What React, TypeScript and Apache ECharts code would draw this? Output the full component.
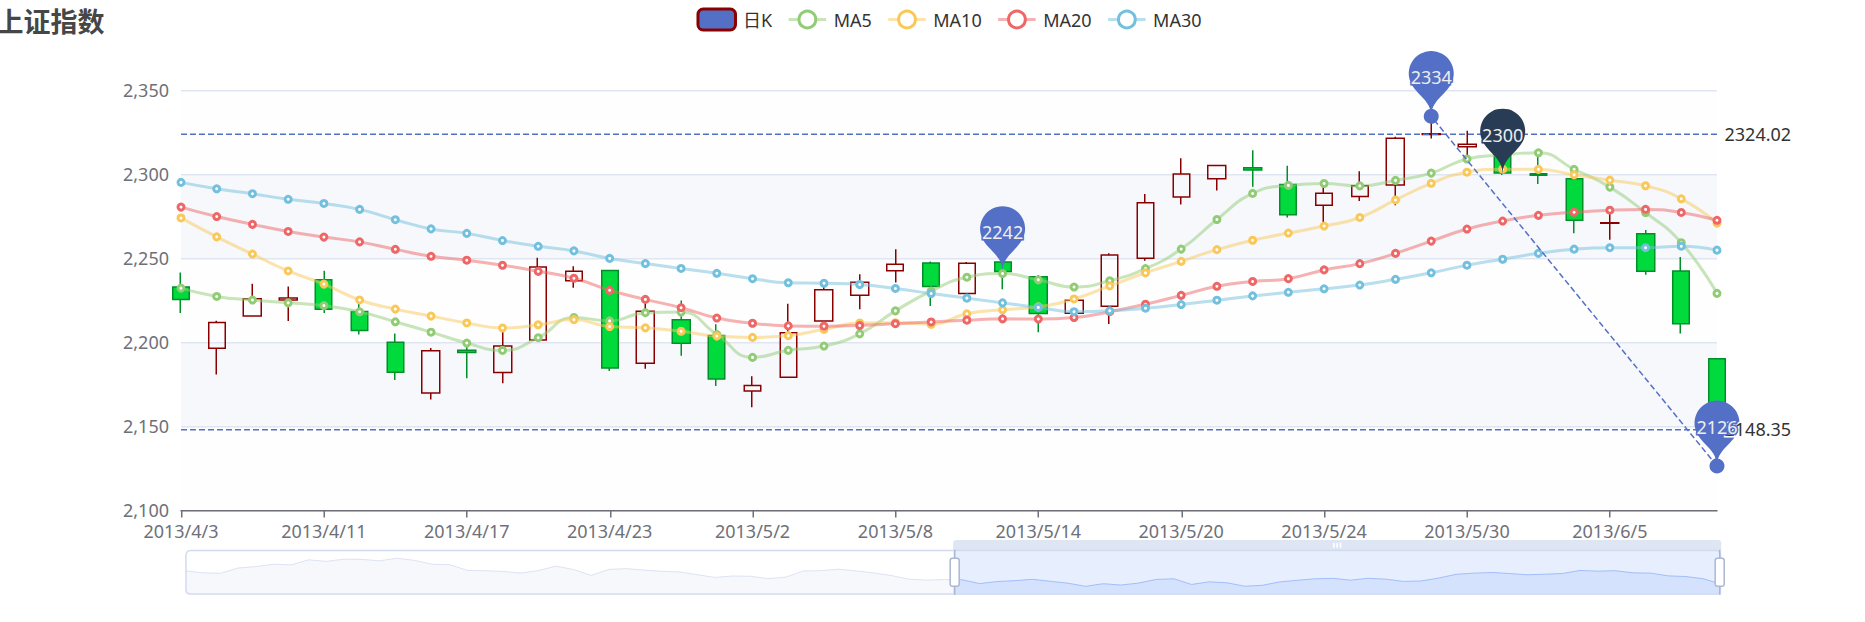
import { useEffect, useRef } from 'react';
import * as echarts from 'echarts';
import 'echarts/theme/v5.js';

const dates = [
  '2013/1/24', '2013/1/25', '2013/1/28', '2013/1/29', '2013/1/30', '2013/1/31',
  '2013/2/1', '2013/2/4', '2013/2/5', '2013/2/6', '2013/2/7', '2013/2/8', '2013/2/18',
  '2013/2/19', '2013/2/20', '2013/2/21', '2013/2/22', '2013/2/25', '2013/2/26', '2013/2/27', '2013/2/28',
  '2013/3/1', '2013/3/4', '2013/3/5', '2013/3/6', '2013/3/7', '2013/3/8', '2013/3/11', '2013/3/12',
  '2013/3/13', '2013/3/14', '2013/3/15', '2013/3/18', '2013/3/19', '2013/3/20', '2013/3/21', '2013/3/22',
  '2013/3/25', '2013/3/26', '2013/3/27', '2013/3/28', '2013/3/29',
  '2013/4/1', '2013/4/2', '2013/4/3', '2013/4/8', '2013/4/9', '2013/4/10', '2013/4/11', '2013/4/12',
  '2013/4/15', '2013/4/16', '2013/4/17', '2013/4/18', '2013/4/19', '2013/4/22', '2013/4/23', '2013/4/24',
  '2013/4/25', '2013/4/26',
  '2013/5/2', '2013/5/3', '2013/5/6', '2013/5/7', '2013/5/8', '2013/5/9', '2013/5/10', '2013/5/13',
  '2013/5/14', '2013/5/15', '2013/5/16', '2013/5/17', '2013/5/20', '2013/5/21', '2013/5/22', '2013/5/23',
  '2013/5/24', '2013/5/27', '2013/5/28', '2013/5/29', '2013/5/30', '2013/5/31',
  '2013/6/3', '2013/6/4', '2013/6/5', '2013/6/6', '2013/6/7', '2013/6/13'
];

const opens = [
  2320.26, 2300, 2295.35, 2347.22, 2360.75, 2383.43,
  2377.41, 2425.92, 2411, 2432.68, 2430.69, 2416.62, 2441.91,
  2420.26, 2383.49, 2378.82, 2322.94, 2320.62, 2313.74, 2297.77, 2322.32,
  2364.54, 2332.08, 2274.81, 2333.61, 2340.44, 2326.42, 2314.68, 2309.16,
  2282.17, 2255.77, 2269.31, 2267.29, 2244.26, 2257.74, 2318.21, 2321.4,
  2334.74, 2318.58, 2299.38, 2273.55, 2238.49,
  2229.46, 2234.9, 2232.69, 2196.24, 2215.47, 2224.93, 2236.98, 2218.09,
  2199.91, 2169.63, 2195.03, 2181.82, 2201.12, 2236.4, 2242.62, 2187.35,
  2213.19, 2203.89,
  2170.78, 2179.05, 2212.5, 2227.86, 2242.39, 2246.96, 2228.82, 2247.68,
  2238.9, 2217.09, 2221.34, 2249.81, 2286.33, 2297.11, 2303.75, 2293.81,
  2281.45, 2286.66, 2293.4, 2323.54, 2316.25, 2320.74,
  2300.21, 2297.1, 2270.71, 2264.43, 2242.26, 2190.1
];

const closes = [
  2320.26, 2291.3, 2346.5, 2358.98, 2382.48, 2385.42,
  2419.02, 2428.15, 2433.13, 2434.48, 2418.53, 2432.4, 2421.56,
  2382.91, 2397.18, 2325.95, 2314.16, 2325.82, 2293.34, 2313.22, 2365.59,
  2359.51, 2273.4, 2326.31, 2347.18, 2324.29, 2318.61, 2310.59, 2286.6,
  2263.97, 2270.28, 2278.4, 2240.02, 2257.43, 2317.37, 2324.24, 2328.28,
  2326.72, 2297.67, 2301.26, 2236.3, 2236.62,
  2234.4, 2227.74, 2225.29, 2211.59, 2225.77, 2226.13, 2219.55, 2206.78,
  2181.94, 2194.85, 2193.8, 2197.6, 2244.64, 2242.17, 2184.54, 2218.32,
  2199.31, 2177.91,
  2174.12, 2205.5, 2231.17, 2235.57, 2246.3, 2232.97, 2246.83, 2241.92,
  2217.01, 2224.8, 2251.81, 2282.87, 2299.99, 2305.11, 2302.4, 2275.67,
  2288.53, 2293.08, 2321.32, 2324.02, 2317.75, 2300.59,
  2299.25, 2272.42, 2270.93, 2242.11, 2210.9, 2148.35
];

const lows = [
  2287.3, 2288.26, 2295.35, 2337.35, 2347.89, 2371.23,
  2369.57, 2417.58, 2403.3, 2427.7, 2394.22, 2414.4, 2415.43,
  2373.53, 2370.61, 2309.17, 2308.76, 2315.01, 2289.89, 2292.03, 2308.92,
  2330.86, 2259.25, 2270.1, 2321.6, 2304.27, 2314.59, 2296.58, 2264.83,
  2253.25, 2253.31, 2250, 2239.21, 2232.02, 2257.42, 2311.6, 2314.97,
  2319.91, 2281.12, 2289, 2232.91, 2228.81,
  2227.31, 2220.44, 2217.25, 2180.67, 2215.47, 2212.56, 2217.26, 2204.44,
  2177.39, 2165.78, 2178.47, 2175.44, 2200.58, 2232.26, 2182.81, 2184.11,
  2191.85, 2173.86,
  2161.14, 2179.05, 2212.5, 2219.44, 2235.42, 2221.38, 2225.81, 2231.36,
  2205.87, 2213.58, 2210.77, 2248.41, 2281.9, 2290.12, 2292.43, 2274.1,
  2270.25, 2283.94, 2281.47, 2321.17, 2310.49, 2299.37,
  2294.11, 2264.76, 2260.87, 2240.07, 2205.07, 2126.22
];

const highs = [
  2362.94, 2308.38, 2346.92, 2363.8, 2383.76, 2391.82,
  2421.15, 2440.38, 2437.42, 2441.73, 2433.89, 2443.03, 2444.8,
  2427.07, 2397.94, 2378.82, 2330.88, 2338.78, 2340.71, 2324.63, 2366.16,
  2369.65, 2333.54, 2328.14, 2351.44, 2352.02, 2333.67, 2320.96, 2333.29,
  2286.33, 2276.22, 2312.08, 2276.05, 2261.31, 2317.86, 2330.81, 2332,
  2344.89, 2319.99, 2323.48, 2273.55, 2246.87,
  2243.95, 2253.42, 2241.34, 2212.59, 2234.73, 2233.04, 2242.48, 2226.26,
  2204.99, 2196.43, 2197.51, 2206.03, 2250.11, 2245.12, 2242.62, 2226.12,
  2224.63, 2210.58,
  2179.65, 2222.81, 2236.07, 2240.26, 2255.21, 2247.86, 2247.67, 2250.85,
  2239.93, 2225.19, 2252.87, 2288.09, 2309.39, 2305.3, 2314.18, 2304.95,
  2292.59, 2301.7, 2322.1, 2334.33, 2325.72, 2325.53,
  2313.43, 2297.1, 2276.86, 2266.69, 2250.63, 2190.1
];

const seriesNames = ['日K', 'MA5', 'MA10', 'MA20', 'MA30'];
const maDays = [5, 10, 20, 30];
const maColors = ['#91cc75', '#fac858', '#ee6666', '#73c0de'];
const markDate = '2013/5/31';
const markValue = 2300;

const FONT = "'Noto Sans', 'Noto Sans CJK SC', sans-serif";
const upBorderColor = '#8A0000';
const downColor = '#00da3c';
const downBorderColor = '#008F28';
const seriesColor = '#5470c6';

function movingAverage(dayCount: number) {
  const result: (number | string)[] = [];
  for (let i = 0; i < closes.length; i++) {
    if (i < dayCount) {
      result.push('-');
      continue;
    }
    let sum = 0;
    for (let j = 0; j < dayCount; j++) sum += closes[i - j];
    result.push(sum / dayCount);
  }
  return result;
}

function buildOption() {
  const values = dates.map((_, i) => [opens[i], closes[i], lows[i], highs[i]]);
  return {
    animation: false,
    textStyle: { fontFamily: FONT },
    title: { text: '上证指数', left: 0 },
    legend: {
      data: [
        { name: seriesNames[0], itemStyle: { color: seriesColor, borderColor: upBorderColor, borderWidth: 2 } },
        ...seriesNames.slice(1)
      ]
    },
    grid: { left: '10%', right: '10%', bottom: '15%' },
    xAxis: {
      type: 'category',
      data: dates,
      boundaryGap: false,
      axisLine: { onZero: false },
      splitLine: { show: false },
      min: 'dataMin',
      max: 'dataMax'
    },
    yAxis: { scale: true, splitArea: { show: true } },
    dataZoom: [
      { type: 'inside', start: 50, end: 100 },
      { show: true, type: 'slider', top: '90%', start: 50, end: 100 }
    ],
    series: [
      {
        name: seriesNames[0],
        type: 'candlestick',
        data: values,
        itemStyle: {
          color: 'transparent',
          color0: downColor,
          borderColor: upBorderColor,
          borderColor0: downBorderColor
        },
        markPoint: {
          itemStyle: { color: seriesColor },
          label: {
            formatter: (param: any) => (param != null ? Math.round(param.value) + '' : '')
          },
          data: [
            { name: 'Mark', coord: [markDate, markValue], value: markValue, itemStyle: { color: 'rgb(41,60,85)' } },
            { name: 'highest value', type: 'max', valueDim: 'highest' },
            { name: 'lowest value', type: 'min', valueDim: 'lowest' },
            { name: 'average value on close', type: 'average', valueDim: 'close' }
          ]
        },
        markLine: {
          symbol: ['none', 'none'],
          lineStyle: { color: seriesColor },
          data: [
            [
              { name: 'from lowest to highest', type: 'min', valueDim: 'lowest', symbol: 'circle', symbolSize: 10, label: { show: false } },
              { type: 'max', valueDim: 'highest', symbol: 'circle', symbolSize: 10, label: { show: false } }
            ],
            { name: 'min line on close', type: 'min', valueDim: 'close' },
            { name: 'max line on close', type: 'max', valueDim: 'close' }
          ]
        }
      },
      ...maDays.map((d, k) => ({
        name: seriesNames[k + 1],
        type: 'line',
        data: movingAverage(d),
        smooth: true,
        color: maColors[k],
        itemStyle: { color: maColors[k] },
        lineStyle: { opacity: 0.5, color: maColors[k] }
      }))
    ]
  };
}

export default function App() {
  const ref = useRef<HTMLDivElement>(null);
  useEffect(() => {
    if (!ref.current) return;
    const chart = echarts.init(ref.current, 'v5', { renderer: 'svg' });
    chart.setOption(buildOption() as any);
    return () => chart.dispose();
  }, []);
  return (
    <div style={{ position: 'absolute', left: 0, top: 0, width: 1865, height: 622, overflow: 'hidden', background: '#fff' }}>
      <div
        ref={ref}
        style={{ position: 'absolute', left: -11, top: 0, width: 1280, height: 400, transform: 'scale(1.5)', transformOrigin: '0 0' }}
      />
    </div>
  );
}
